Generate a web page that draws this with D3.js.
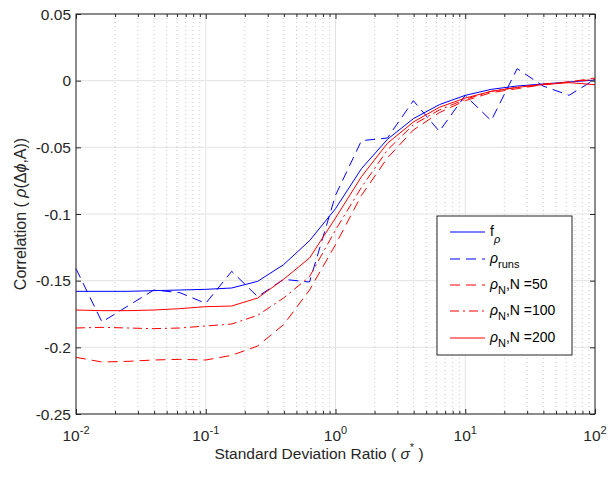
<!DOCTYPE html>
<html>
<head>
<meta charset="utf-8">
<script src="https://cdn.jsdelivr.net/npm/d3@7"></script>
<style>
  body { margin: 0; background: #fff; }
  svg { font-family: "Liberation Sans", Arial, Helvetica, sans-serif; }
</style>
</head>
<body>
<svg id="chart" width="615" height="478"></svg>
<script>
// standard deviation ratio sample points
const sigmaRatio = [0.01, 0.01585, 0.02512, 0.03981, 0.0631, 0.1, 0.1585, 0.2512, 0.3981, 0.631,
  1, 1.585, 2.512, 3.981, 6.31, 10, 15.85, 25.12, 39.81, 63.1, 100];

const fRho = [-0.158, -0.158, -0.158, -0.1575, -0.157, -0.1565, -0.1555, -0.1505, -0.138, -0.120,
  -0.096, -0.066, -0.044, -0.0285, -0.018, -0.011, -0.0065, -0.004, -0.0025, -0.001, 0.0005];
const rhoRuns = [-0.141, -0.181, -0.169, -0.157, -0.159, -0.167, -0.143, -0.162, -0.149, -0.151,
  -0.086, -0.045, -0.043, -0.015, -0.038, -0.011, -0.030, 0.009, -0.004, -0.011, 0.001];
const rhoN50 = [-0.2075, -0.211, -0.2105, -0.2095, -0.209, -0.2095, -0.206, -0.199, -0.183, -0.157,
  -0.123, -0.086, -0.058, -0.037, -0.024, -0.015, -0.009, -0.006, -0.003, -0.001, 0.002];
const rhoN100 = [-0.1855, -0.185, -0.1855, -0.186, -0.1855, -0.184, -0.1825, -0.176, -0.163, -0.147,
  -0.112, -0.080, -0.052, -0.033, -0.022, -0.014, -0.008, -0.005, -0.0025, -0.001, 0.001];
const rhoN200 = [-0.172, -0.1725, -0.1725, -0.172, -0.171, -0.1695, -0.169, -0.163, -0.149, -0.133,
  -0.103, -0.072, -0.047, -0.031, -0.020, -0.013, -0.008, -0.005, -0.003, -0.0015, -0.003];

const xTicks = [0.01, 0.1, 1, 10, 100];
const xTickExp = ["-2", "-1", "0", "1", "2"];
const yTicks = [0.05, 0, -0.05, -0.1, -0.15, -0.2, -0.25];
const yTickLabels = ["0.05", "0", "-0.05", "-0.1", "-0.15", "-0.2", "-0.25"];

const series = [
  { values: fRho, color: "#0000ff", dash: null },
  { values: rhoRuns, color: "#0000ff", dash: "10,6" },
  { values: rhoN50, color: "#ff0000", dash: "10,6" },
  { values: rhoN100, color: "#ff0000", dash: "9,4,2,4" },
  { values: rhoN200, color: "#ff0000", dash: null }
];

const margin = { top: 14, right: 20, bottom: 64, left: 76 };
const width = 615 - margin.left - margin.right;
const height = 478 - margin.top - margin.bottom;
const ink = "#262626";

const svg = d3.select("#chart");
const chart = svg.append("g").attr("transform", `translate(${margin.left},${margin.top})`);

const x = d3.scaleLog().domain([0.01, 100]).range([0, width]);
const y = d3.scaleLinear().domain([-0.25, 0.05]).range([height, 0]);

// minor positions for log axis
const minorTicks = [];
for (let d = 0.01; d < 100; d *= 10) {
  for (let k = 2; k <= 9; k++) minorTicks.push(d * k);
}

// grid
const grid = chart.append("g");
grid.selectAll(".xminor").data(minorTicks).enter().append("line")
  .attr("x1", d => x(d)).attr("x2", d => x(d))
  .attr("y1", 0).attr("y2", height)
  .attr("stroke", "#c8c8c8").attr("stroke-width", 1).attr("stroke-dasharray", "1,3");
grid.selectAll(".xmajor").data(xTicks).enter().append("line")
  .attr("x1", d => x(d)).attr("x2", d => x(d))
  .attr("y1", 0).attr("y2", height)
  .attr("stroke", "#e3e3e3").attr("stroke-width", 1);
grid.selectAll(".ymajor").data(yTicks).enter().append("line")
  .attr("x1", 0).attr("x2", width)
  .attr("y1", d => y(d)).attr("y2", d => y(d))
  .attr("stroke", "#e3e3e3").attr("stroke-width", 1);

// curves
const line = d3.line()
  .x((d, i) => x(sigmaRatio[i]))
  .y(d => y(d));

series.forEach(s => {
  chart.append("path")
    .datum(s.values)
    .attr("fill", "none")
    .attr("stroke", s.color)
    .attr("stroke-width", 1)
    .attr("stroke-dasharray", s.dash)
    .attr("d", line);
});

// axes box with inward ticks
const axes = chart.append("g").attr("stroke", ink);
axes.append("rect").attr("x", 0).attr("y", 0).attr("width", width).attr("height", height)
  .attr("fill", "none").attr("stroke-width", 1);

chart.append("g").attr("transform", `translate(0,${height})`)
  .call(d3.axisBottom(x).tickValues(xTicks).tickFormat("").tickSizeInner(-5).tickSizeOuter(0));
chart.append("g")
  .call(d3.axisTop(x).tickValues(xTicks).tickFormat("").tickSizeInner(-5).tickSizeOuter(0));
chart.append("g").attr("transform", `translate(0,${height})`)
  .call(d3.axisBottom(x).tickValues(minorTicks).tickFormat("").tickSizeInner(-3).tickSizeOuter(0));
chart.append("g")
  .call(d3.axisTop(x).tickValues(minorTicks).tickFormat("").tickSizeInner(-3).tickSizeOuter(0));
chart.append("g")
  .call(d3.axisLeft(y).tickValues(yTicks).tickFormat("").tickSizeInner(-5).tickSizeOuter(0));
chart.append("g").attr("transform", `translate(${width},0)`)
  .call(d3.axisRight(y).tickValues(yTicks).tickFormat("").tickSizeInner(-5).tickSizeOuter(0));
chart.selectAll(".domain").remove();
chart.selectAll(".tick line").attr("stroke", ink);

// tick labels
yTicks.forEach((t, i) => {
  chart.append("text")
    .attr("x", -5).attr("y", y(t)).attr("dy", "0.36em")
    .attr("text-anchor", "end").attr("font-size", 15.5).attr("fill", ink)
    .text(yTickLabels[i]);
});
xTicks.forEach((t, i) => {
  const lab = chart.append("text")
    .attr("x", x(t)).attr("y", height + 27)
    .attr("text-anchor", "middle").attr("font-size", 15.5).attr("fill", ink);
  lab.append("tspan").text("10");
  lab.append("tspan").attr("dy", -7).attr("font-size", 11).text(xTickExp[i]);
});

// axis titles
const xl = svg.append("text")
  .attr("x", 319).attr("y", 459)
  .attr("text-anchor", "middle").attr("font-size", 15.5).attr("fill", ink);
xl.append("tspan").text("Standard Deviation Ratio ( ");
xl.append("tspan").attr("font-style", "italic").text("σ");
xl.append("tspan").attr("dy", -8).attr("font-size", 11).text("*");
xl.append("tspan").attr("dy", 8).text(" )");

const yl = svg.append("text")
  .attr("transform", "translate(26,214) rotate(-90)")
  .attr("text-anchor", "middle").attr("font-size", 16).attr("fill", ink);
yl.append("tspan").text("Correlation ( ");
yl.append("tspan").attr("font-style", "italic").text("ρ");
yl.append("tspan").text("(Δ");
yl.append("tspan").attr("font-style", "italic").text("ϕ");
yl.append("tspan").text(",A))");

// legend
const legend = svg.append("g").attr("transform", "translate(437,216)");
legend.append("rect").attr("width", 135).attr("height", 139)
  .attr("fill", "#fff").attr("stroke", ink).attr("stroke-width", 1);

const rowY = [16, 43, 69, 95, 122];
const legendParts = [
  [["f", null], ["ρ", "subi"]],
  [["ρ", "i"], ["runs", "sub"]],
  [["ρ", "i"], ["N", "sub"], [",N =50", "up"]],
  [["ρ", "i"], ["N", "sub"], [",N =100", "up"]],
  [["ρ", "i"], ["N", "sub"], [",N =200", "up"]]
];

series.forEach((s, i) => {
  legend.append("line")
    .attr("x1", 13).attr("x2", 48)
    .attr("y1", rowY[i]).attr("y2", rowY[i])
    .attr("stroke", s.color).attr("stroke-width", 1)
    .attr("stroke-dasharray", s.dash);
  const t = legend.append("text")
    .attr("x", 53).attr("y", rowY[i] + 4)
    .attr("font-size", 14).attr("fill", "#000");
  legendParts[i].forEach(([txt, kind]) => {
    const sp = t.append("tspan").text(txt);
    if (kind === "i") sp.attr("font-style", "italic");
    if (kind === "sub") sp.attr("dy", 5).attr("font-size", 11);
    if (kind === "subi") sp.attr("dy", 7).attr("font-size", 11).attr("font-style", "italic");
    if (kind === "up") sp.attr("dy", -5);
  });
});
</script>
</body>
</html>
